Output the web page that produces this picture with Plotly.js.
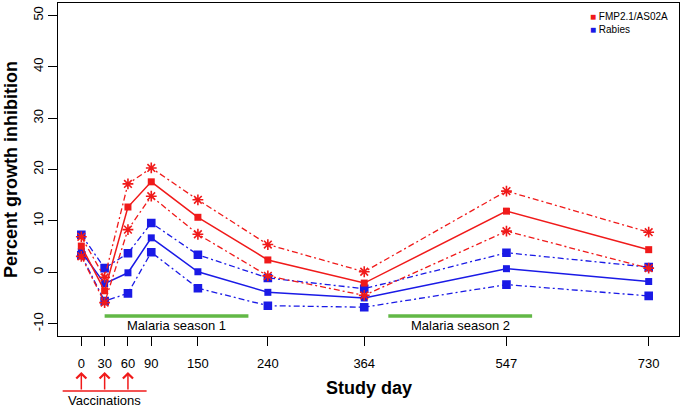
<!DOCTYPE html>
<html>
<head>
<meta charset="utf-8">
<script src="https://cdn.plot.ly/plotly-3.0.1.min.js"></script>
<style>html,body{margin:0;padding:0;background:#fff;}#chart{width:682px;height:408px;}</style>
</head>
<body>
<div id="chart"></div>
<script>
// ---- data ----
const studyDays = [0, 30, 60, 90, 150, 240, 364, 547, 730];
const fmpMean  = [5.1, -3.6, 12.7, 17.6, 10.7, 2.4, -2.1, 11.9, 4.4];
const fmpUpper = [6.9, -1.0, 17.2, 20.3, 14.1, 5.4, 0.1, 15.8, 7.8];
const fmpLower = [3.1, -5.9, 8.3, 14.8, 7.4, -0.7, -4.5, 8.0, 0.8];
const rabMean  = [4.0, -2.2, -0.1, 6.7, 0.1, -3.9, -5.0, 0.7, -1.8];
const rabUpper = [7.3, 0.8, 3.7, 9.6, 3.4, -1.1, -3.2, 3.8, 1.0];
const rabLower = [3.3, -5.6, -4.1, 3.9, -3.1, -6.5, -6.8, -2.4, -4.6];
const seriesNames = ["FMP2.1/AS02A", "Rabies"];
const vaccinationDays = [0, 30, 60];
const seasonLabels = ["Malaria season 1", "Malaria season 2"];
const seasonStart = [30, 395];
const seasonEnd = [215, 580];
const yTicks = [-10, 0, 10, 20, 30, 40, 50];

// ---- styles ----
const RED = "#f01a1a", BLUE = "#1a1ae6", GREEN = "#62b846";
const FONT = "Liberation Sans, Arial, sans-serif";
const dd = "6px,3px,2px,3px";

function ciTrace(y, color, symbol, size) {
  return {x: studyDays, y: y, mode: "lines+markers", showlegend: false, hoverinfo: "skip",
    line: {color: color, width: 1.3, dash: dd},
    marker: {symbol: symbol, size: size, color: color, line: {color: color, width: 1.6}}};
}
function meanTrace(y, color, name) {
  return {x: studyDays, y: y, mode: "lines+markers", name: name, showlegend: false,
    line: {color: color, width: 1.5},
    marker: {symbol: "square", size: 7, color: color}};
}
const traces = [
  ciTrace(rabUpper, BLUE, "square", 7),
  ciTrace(rabLower, BLUE, "square", 7),
  meanTrace(rabMean, BLUE, seriesNames[1]),
  ciTrace(fmpUpper, RED, "asterisk-open", 9),
  ciTrace(fmpLower, RED, "asterisk-open", 9),
  meanTrace(fmpMean, RED, seriesNames[0])
];

const shapes = [];
const annotations = [];
seasonStart.forEach((s, i) => {
  shapes.push({type: "line", xref: "x", yref: "y", x0: s, x1: seasonEnd[i], y0: -8.5, y1: -8.5,
    line: {color: GREEN, width: 3.5}});
  annotations.push({xref: "x", yref: "y", x: (s + seasonEnd[i]) / 2, y: -10.3, text: seasonLabels[i],
    showarrow: false, font: {family: FONT, size: 13, color: "#000"}, yanchor: "middle"});
});
const vMin = Math.min(...vaccinationDays), vMax = Math.max(...vaccinationDays);
shapes.push({type: "line", xref: "x", yref: "paper", x0: vMin - 24, x1: vMax + 24, y0: -0.165, y1: -0.165,
  line: {color: RED, width: 1.5}});
vaccinationDays.forEach(d => {
  annotations.push({xref: "x", yref: "paper", x: d, y: -0.108, ax: 0, ay: 19, text: "", showarrow: true,
    arrowhead: 4, arrowsize: 1.3, arrowwidth: 1.5, arrowcolor: RED});
});
annotations.push({xref: "x", yref: "paper", x: (vMin + vMax) / 2, y: -0.195, text: "Vaccinations",
  showarrow: false, yanchor: "middle", font: {family: FONT, size: 13, color: "#000"}});
// x-axis title
annotations.push({xref: "paper", yref: "paper", x: 0.5, y: -0.156, yanchor: "middle", showarrow: false,
  text: "<b>Study day</b>", font: {family: FONT, size: 18, color: "#000"}});
// legend (key)
annotations.push({xref: "paper", yref: "paper", x: 0.853, y: 0.982, xanchor: "left", yanchor: "top",
  align: "left", showarrow: false, font: {family: FONT, size: 10, color: "#000"},
  text: "<span style='color:" + RED + "'>■</span> " + seriesNames[0] +
        "<br><span style='color:" + BLUE + "'>■</span> " + seriesNames[1]});

const layout = {
  width: 682, height: 408,
  margin: {l: 58, r: 3, t: 3, b: 72},
  paper_bgcolor: "#fff", plot_bgcolor: "#fff",
  font: {family: FONT, size: 13, color: "#000"},
  showlegend: false,
  xaxis: {range: [-30, 769], tickvals: studyDays, ticktext: studyDays.map(String),
    showgrid: false, zeroline: false, showline: true, mirror: true, linecolor: "#000", linewidth: 1.2,
    ticks: "outside", ticklen: 9, tickwidth: 1, tickcolor: "#000", ticklabelstandoff: 6,
    tickfont: {family: FONT, size: 13, color: "#000"}},
  yaxis: {range: [-12.4, 52.4], tickvals: yTicks, ticktext: yTicks.map(String), tickangle: -90,
    showgrid: false, zeroline: false, showline: true, mirror: true, linecolor: "#000", linewidth: 1.2,
    ticks: "outside", ticklen: 9, tickwidth: 1, tickcolor: "#000",
    tickfont: {family: FONT, size: 13, color: "#000"},
    title: {text: "<b>Percent growth inhibition</b>", font: {family: FONT, size: 18, color: "#000"}, standoff: 8}},
  shapes: shapes,
  annotations: annotations
};

Plotly.newPlot("chart", traces, layout, {displayModeBar: false, staticPlot: true});
</script>
</body>
</html>
